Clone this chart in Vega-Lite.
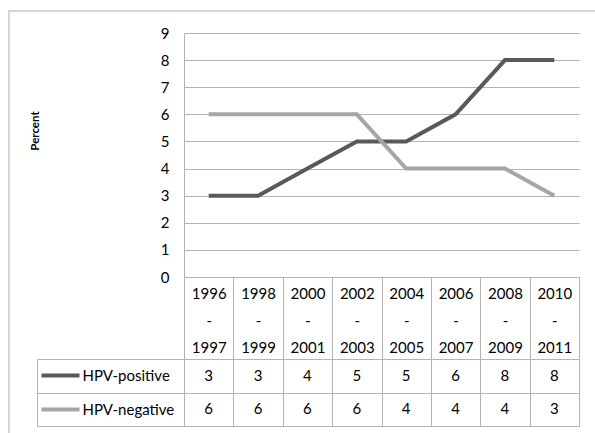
{
  "$schema": "https://vega.github.io/schema/vega-lite/v6.json",
  "padding": {"left": 8, "top": 10, "right": 0, "bottom": 0},
  "background": "white",
  "config": {"font": "Lato", "view": {"stroke": null}},
  "datasets": {
    "rates": [
      {"period": "1996-1997", "series": "HPV-positive", "value": 3},
      {"period": "1998-1999", "series": "HPV-positive", "value": 3},
      {"period": "2000-2001", "series": "HPV-positive", "value": 4},
      {"period": "2002-2003", "series": "HPV-positive", "value": 5},
      {"period": "2004-2005", "series": "HPV-positive", "value": 5},
      {"period": "2006-2007", "series": "HPV-positive", "value": 6},
      {"period": "2008-2009", "series": "HPV-positive", "value": 8},
      {"period": "2010-2011", "series": "HPV-positive", "value": 8},
      {"period": "1996-1997", "series": "HPV-negative", "value": 6},
      {"period": "1998-1999", "series": "HPV-negative", "value": 6},
      {"period": "2000-2001", "series": "HPV-negative", "value": 6},
      {"period": "2002-2003", "series": "HPV-negative", "value": 6},
      {"period": "2004-2005", "series": "HPV-negative", "value": 4},
      {"period": "2006-2007", "series": "HPV-negative", "value": 4},
      {"period": "2008-2009", "series": "HPV-negative", "value": 4},
      {"period": "2010-2011", "series": "HPV-negative", "value": 3}
    ],
    "none": []
  },
  "bounds": "flush",
  "spacing": 0,
  "vconcat": [
    {
      "data": {"name": "none"},
      "width": 600, "height": 0.01,
      "view": {"stroke": "#c8c8c8", "strokeWidth": 1.5},
      "mark": {"type": "point", "opacity": 0},
      "encoding": {}
    },
    {
      "bounds": "flush",
      "spacing": 174,
      "hconcat": [
        {
          "data": {"name": "none"},
          "width": 0.01, "height": 430,
          "view": {"stroke": "#c8c8c8", "strokeWidth": 1.5},
          "mark": {"type": "point", "opacity": 0},
          "encoding": {}
        },
        {
          "bounds": "flush",
          "spacing": 20,
          "vconcat": [
            {
              "data": {"name": "none"},
              "width": 395, "height": 0.01,
              "mark": {"type": "point", "opacity": 0},
              "encoding": {}
            },
            {
              "bounds": "flush",
              "spacing": 82,
              "vconcat": [
                {
                  "data": {"name": "rates"},
                  "width": 395,
                  "height": 244,
                  "title": {"text": "Percent", "orient": "left", "anchor": "middle", "angle": -90,
                    "fontSize": 11.5, "fontWeight": "bold", "color": "#000000", "font": "Lato",
                    "offset": 111, "dx": 24, "dy": -8},
                  "mark": {"type": "line", "strokeWidth": 4},
                  "encoding": {
                    "x": {"field": "period", "type": "nominal", "sort": null,
                      "scale": {"type": "band", "paddingInner": 0, "paddingOuter": 0},
                      "axis": {"title": null, "orient": "bottom",
                        "labelExpr": "datum.label && length(datum.label) >= 9 ? [substring(datum.label,0,4),'-',substring(datum.label,5,9)] : ''",
                        "labelAngle": 0, "labelBaseline": "top", "labelLineHeight": 27,
                        "labelPadding": -73, "labelFontSize": 15, "labelColor": "#000000",
                        "tickBand": "extent", "tickSize": 82, "tickColor": "#b3b3b3",
                        "domainColor": "#b3b3b3", "grid": false}},
                    "y": {"field": "value", "type": "quantitative",
                      "scale": {"domain": [0, 9], "nice": false},
                      "axis": {"title": null, "values": [0,1,2,3,4,5,6,7,8,9], "ticks": false,
                        "labelPadding": 15, "labelFontSize": 15, "labelColor": "#000000",
                        "gridColor": "#b3b3b3", "domainColor": "#b3b3b3",
                        "minExtent": 22, "maxExtent": 22}},
                    "color": {"field": "series", "type": "nominal",
                      "scale": {"domain": ["HPV-positive", "HPV-negative"], "range": ["#595959", "#a6a6a6"]},
                      "legend": null}
                  }
                },
                {
                  "data": {"name": "rates"},
                  "width": 395,
                  "height": 67,
                  "view": {"stroke": "#b3b3b3"},
                  "encoding": {
                    "x": {"field": "period", "type": "nominal", "sort": null,
                      "scale": {"type": "band", "paddingInner": 0, "paddingOuter": 0},
                      "axis": {"title": null, "labels": false, "ticks": false, "domain": false,
                        "grid": true, "tickBand": "extent", "gridColor": "#b3b3b3"}}
                  },
                  "layer": [
                    {
                      "mark": {"type": "text", "fontSize": 15, "color": "#000000"},
                      "encoding": {
                        "y": {"field": "series", "type": "nominal", "sort": ["HPV-positive", "HPV-negative"],
                          "scale": {"type": "band", "paddingInner": 0, "paddingOuter": 0},
                          "axis": {"title": null, "orient": "left", "domainColor": "#b3b3b3",
                            "tickBand": "extent", "tickSize": 147, "tickColor": "#b3b3b3",
                            "labelAlign": "left", "labelPadding": -45, "labelFontSize": 15, "labelColor": "#000000",
                            "grid": true, "gridColor": "#b3b3b3"}},
                        "text": {"field": "value", "type": "quantitative"}
                      }
                    },
                    {
                      "mark": {"type": "point", "opacity": 0},
                      "encoding": {
                        "y": {"field": "series", "type": "nominal", "sort": ["HPV-positive", "HPV-negative"],
                          "axis": {"title": null, "orient": "left", "offset": 105, "domain": false, "labels": false,
                            "grid": false, "tickSize": 38, "tickWidth": 4,
                            "tickColor": {"condition": {"test": "datum.value === 'HPV-positive'", "value": "#595959"}, "value": "#a6a6a6"}}}
                      }
                    },
                    {
                      "mark": {"type": "point", "opacity": 0},
                      "encoding": {
                        "y": {"field": "series", "type": "nominal", "sort": ["HPV-positive", "HPV-negative"],
                          "axis": {"title": null, "orient": "left", "offset": 147, "ticks": false, "labels": false,
                            "grid": false, "domainColor": "#b3b3b3"}}
                      }
                    }
                  ],
                  "resolve": {"axis": {"y": "independent"}}
                }
              ]
            }
          ]
        }
      ]
    }
  ]
}
